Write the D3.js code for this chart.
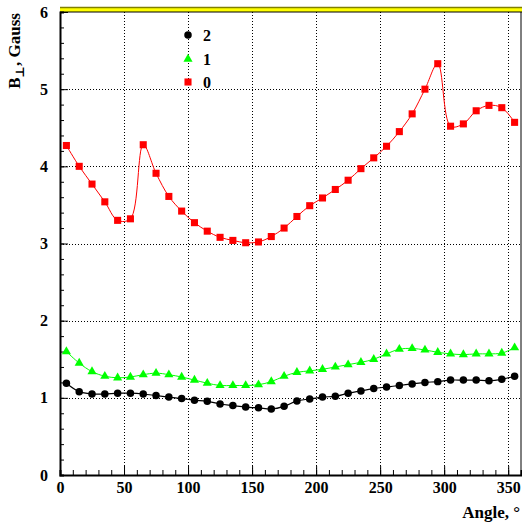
<!DOCTYPE html>
<html>
<head>
  <meta charset="utf-8">
  <title>B perp vs angle</title>
  <script src="https://d3js.org/d3.v7.min.js"></script>
  <style>
    body { margin: 0; background: white; }
    text { font-family: "Liberation Serif", "DejaVu Serif", serif; font-weight: bold; }
  </style>
</head>
<body>
  <div id="graphContainer"></div>
  <script>
    var angles = [5, 15, 25, 35, 45, 55, 65, 75, 85, 95, 105, 115, 125, 135, 145, 155, 165, 175,
      185, 195, 205, 215, 225, 235, 245, 255, 265, 275, 285, 295, 305, 315, 325, 335, 345, 355];
    var series0 = [4.27, 4.00, 3.77, 3.54, 3.30, 3.32, 4.28, 3.91, 3.61, 3.42, 3.27, 3.16, 3.08, 3.04, 3.01, 3.02, 3.09, 3.20,
      3.35, 3.49, 3.59, 3.70, 3.82, 3.97, 4.11, 4.26, 4.45, 4.68, 5.00, 5.33, 4.52, 4.55, 4.72, 4.79, 4.76, 4.57];
    var series1 = [1.60, 1.45, 1.34, 1.28, 1.26, 1.27, 1.30, 1.32, 1.30, 1.27, 1.23, 1.19, 1.16, 1.16, 1.16, 1.17, 1.21, 1.28,
      1.33, 1.35, 1.37, 1.40, 1.43, 1.46, 1.50, 1.57, 1.63, 1.64, 1.62, 1.59, 1.57, 1.56, 1.57, 1.57, 1.58, 1.65];
    var series2 = [1.19, 1.08, 1.05, 1.05, 1.06, 1.06, 1.05, 1.03, 1.01, 0.99, 0.97, 0.955, 0.92, 0.90, 0.88, 0.87, 0.855, 0.89,
      0.96, 0.985, 1.01, 1.02, 1.06, 1.09, 1.12, 1.14, 1.16, 1.18, 1.20, 1.21, 1.23, 1.23, 1.23, 1.22, 1.24, 1.28];
    var legendLabels = ["2", "1", "0"];
    var xTicks = [0, 50, 100, 150, 200, 250, 300, 350];
    var yTicks = [0, 1, 2, 3, 4, 5, 6];

    var width = 522;
    var height = 523;
    var pLeft = 60, pRight = 521, pTop = 12, pBottom = 475;

    var svg = d3.select("#graphContainer").append("svg")
      .attr("width", width)
      .attr("height", height);

    var x = d3.scaleLinear().domain([0, 360]).range([pLeft, pRight]);
    var y = d3.scaleLinear().domain([0, 6]).range([pBottom, pTop]);

    // grid
    var grid = svg.append("g").attr("stroke", "#000").attr("stroke-width", 1).attr("stroke-dasharray", "1,2");
    xTicks.filter(function (d) { return d > 0; }).forEach(function (d) {
      grid.append("line").attr("x1", Math.round(x(d)) + 0.5).attr("x2", Math.round(x(d)) + 0.5)
        .attr("y1", pTop).attr("y2", pBottom);
    });
    yTicks.filter(function (d) { return d > 0 && d < 6; }).forEach(function (d) {
      grid.append("line").attr("y1", Math.round(y(d)) + 0.5).attr("y2", Math.round(y(d)) + 0.5)
        .attr("x1", pLeft).attr("x2", pRight);
    });

    // top yellow band
    svg.append("rect").attr("x", pLeft).attr("y", 7).attr("width", width - pLeft).attr("height", 5)
      .attr("fill", "#ffff00");
    svg.append("line").attr("x1", pLeft).attr("x2", width).attr("y1", 7.5).attr("y2", 7.5)
      .attr("stroke", "#808000").attr("stroke-width", 1.5);

    // frame
    svg.append("line").attr("x1", pLeft).attr("x2", width).attr("y1", pTop).attr("y2", pTop).attr("stroke", "#000").attr("stroke-width", 1);
    svg.append("line").attr("x1", pRight).attr("x2", pRight).attr("y1", pTop).attr("y2", pBottom).attr("stroke", "#000").attr("stroke-width", 1);

    // axes (ticks inside)
    var xAxis = d3.axisBottom(x).tickValues(d3.range(0, 361, 10)).tickSize(-5).tickFormat("");
    svg.append("g").attr("transform", "translate(0," + pBottom + ")").call(xAxis)
      .call(function (g) { g.select(".domain").attr("stroke-width", 2); });
    svg.append("g").attr("transform", "translate(0," + pBottom + ")")
      .call(d3.axisBottom(x).tickValues(xTicks).tickSize(-9).tickPadding(7).tickFormat(d3.format("d")))
      .call(function (g) {
        g.select(".domain").remove();
        g.selectAll("text").attr("font-size", 16).attr("fill", "#000");
      });

    var yAxis = d3.axisLeft(y).tickValues(d3.range(0, 6.01, 0.2)).tickSize(-4).tickFormat("");
    svg.append("g").attr("transform", "translate(" + pLeft + ",0)").call(yAxis)
      .call(function (g) { g.select(".domain").attr("stroke-width", 2); });
    svg.append("g").attr("transform", "translate(" + pLeft + ",0)")
      .call(d3.axisLeft(y).tickValues(yTicks).tickSize(-8).tickPadding(12).tickFormat(d3.format("d")))
      .call(function (g) {
        g.select(".domain").remove();
        g.selectAll("text").attr("font-size", 16).attr("fill", "#000");
      });

    // axis titles
    svg.append("text").attr("x", 520).attr("y", 518).attr("text-anchor", "end")
      .attr("font-size", 17).text("Angle, °");
    var yt = svg.append("text").attr("transform", "translate(20,13) rotate(-90)")
      .attr("text-anchor", "end").attr("font-size", 17);
    yt.append("tspan").text("B");
    yt.append("tspan").attr("font-size", 12).attr("dy", 4).text("⊥");
    yt.append("tspan").attr("dy", -4).text(", Gauss");

    var line = d3.line().curve(d3.curveCatmullRom)
      .x(function (d) { return x(d[0]); })
      .y(function (d) { return y(d[1]); });

    function zip(vals) { return angles.map(function (a, i) { return [a, vals[i]]; }); }

    svg.append("clipPath").attr("id", "clip").append("rect")
      .attr("x", pLeft).attr("y", pTop).attr("width", pRight - pLeft).attr("height", pBottom - pTop);
    var plot = svg.append("g").attr("clip-path", "url(#clip)");

    plot.append("path").attr("d", line(zip(series0))).attr("fill", "none").attr("stroke", "#ff0000").attr("stroke-width", 1);
    plot.append("path").attr("d", line(zip(series1))).attr("fill", "none").attr("stroke", "#00ff00").attr("stroke-width", 1);
    plot.append("path").attr("d", line(zip(series2))).attr("fill", "none").attr("stroke", "#000").attr("stroke-width", 1.2);

    var square = d3.symbol().type(d3.symbolSquare).size(50);
    var tri = d3.symbol().type(d3.symbolTriangle).size(36);
    var circ = d3.symbol().type(d3.symbolCircle).size(44);

    zip(series0).forEach(function (d) {
      plot.append("path").attr("d", square()).attr("transform", "translate(" + x(d[0]) + "," + y(d[1]) + ")").attr("fill", "#ff0000");
    });
    zip(series1).forEach(function (d) {
      plot.append("path").attr("d", tri()).attr("transform", "translate(" + x(d[0]) + "," + y(d[1]) + ")").attr("fill", "#00ff00");
    });
    zip(series2).forEach(function (d) {
      plot.append("path").attr("d", circ()).attr("transform", "translate(" + x(d[0]) + "," + y(d[1]) + ")").attr("fill", "#000");
    });

    // legend
    var legendSymbols = [circ, tri, square];
    var legendColors = ["#000", "#00ff00", "#ff0000"];
    var legendY = [35, 59, 82];
    legendLabels.forEach(function (lab, i) {
      svg.append("path").attr("d", legendSymbols[i]()).attr("transform", "translate(188," + legendY[i] + ")").attr("fill", legendColors[i]);
      svg.append("text").attr("x", 203).attr("y", legendY[i] + 6).attr("font-size", 16).text(lab);
    });
  </script>
</body>
</html>
